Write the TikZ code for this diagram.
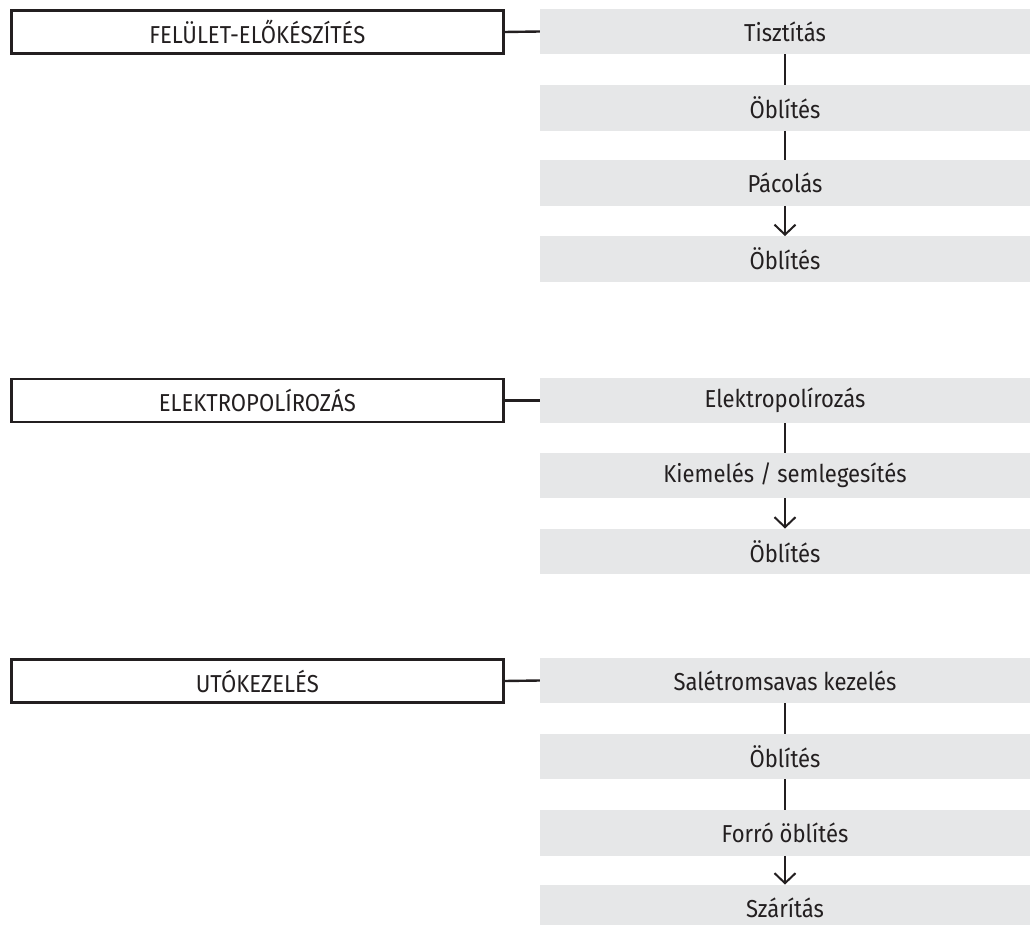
\documentclass[tikz,border=0pt]{standalone}
\usepackage{fontspec}
\setmainfont{Fira Sans}[FakeStretch=0.9]
\usetikzlibrary{arrows.meta}
\definecolor{ink}{HTML}{231F20}
\definecolor{boxgray}{HTML}{E6E7E8}
\tikzset{
  stepbox/.style={fill=boxgray, draw=none, minimum width=490pt, minimum height=45.5pt, inner sep=0pt, text=ink, font=\fontsize{24.5}{28}\selectfont},
  phasebox/.style={draw=ink, line width=2.4pt, fill=white, minimum width=492pt, minimum height=43pt, inner sep=0pt, text=ink, font=\fontsize{24.5}{28}\selectfont},
  link/.style={draw=ink, line width=2.4pt},
  flow/.style={draw=ink, line width=2pt, -{Straight Barb[length=10pt,width=21pt,line width=2pt]}}
}
\begin{document}
\begin{tikzpicture}[x=1pt,y={(0pt,-1pt)}]
\useasboundingbox (0,0) rectangle (1030,925);
\clip (0,0) rectangle (1030,925);
% section 1
\node[phasebox] (p1) at (257.3,32) {FELÜLET-ELŐKÉSZÍTÉS};
\node[stepbox] (a1) at (785,31.5) {Tisztítás};
\node[stepbox] (a2) at (785,108) {Öblítés};
\node[stepbox] (a3) at (785,183) {Pácolás};
\node[stepbox] (a4) at (785,259) {Öblítés};
\draw[link] (p1.east) -- (a1.west);
\draw[link] (a1.south) -- (a2.north);
\draw[link] (a2.south) -- (a3.north);
\draw[flow] (a3.south) -- (a4.north);
% section 2
\node[phasebox] (p2) at (257.3,400.5) {ELEKTROPOLÍROZÁS};
\node[stepbox] (b1) at (785,400.5) {Elektropolírozás};
\node[stepbox] (b2) at (785,475.5) {Kiemelés / semlegesítés};
\node[stepbox] (b3) at (785,551.5) {Öblítés};
\draw[link] (p2.east) -- (b1.west);
\draw[link] (b1.south) -- (b2.north);
\draw[flow] (b2.south) -- (b3.north);
% section 3
\node[phasebox] (p3) at (257.3,681) {UTÓKEZELÉS};
\node[stepbox] (c1) at (785,680.5) {Salétromsavas kezelés};
\node[stepbox] (c2) at (785,756.5) {Öblítés};
\node[stepbox] (c3) at (785,833) {Forró öblítés};
\node[stepbox] (c4) at (785,907.5) {Szárítás};
\draw[link] (p3.east) -- (c1.west);
\draw[link] (c1.south) -- (c2.north);
\draw[link] (c2.south) -- (c3.north);
\draw[flow] (c3.south) -- (c4.north);
\end{tikzpicture}
\end{document}
